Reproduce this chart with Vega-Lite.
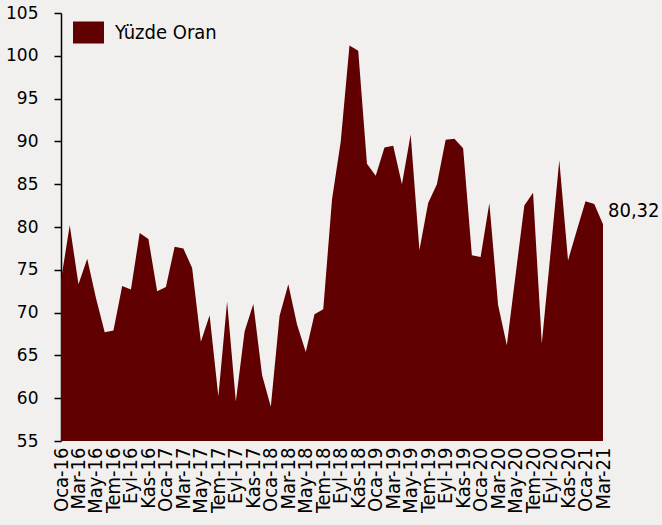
{
  "$schema": "https://vega.github.io/schema/vega-lite/v6.json",
  "autosize": {"type": "none"},
  "padding": {"left": 61, "top": 13, "right": 59, "bottom": 84},
  "width": 542,
  "height": 428,
  "background": "#f2f0ef",
  "config": {
    "view": {"stroke": null},
    "font": "DejaVu Sans",
    "locale": {"number": {"decimal": ",", "thousands": ".", "grouping": [3], "currency": ["", " TL"]}}
  },
  "data": {
    "values": [
      {"ay": "Oca-16", "oran": 73.8},
      {"ay": "Şub-16", "oran": 80.2},
      {"ay": "Mar-16", "oran": 73.3},
      {"ay": "Nis-16", "oran": 76.3},
      {"ay": "May-16", "oran": 71.7},
      {"ay": "Haz-16", "oran": 67.7},
      {"ay": "Tem-16", "oran": 67.9},
      {"ay": "Ağu-16", "oran": 73.1},
      {"ay": "Eyl-16", "oran": 72.7},
      {"ay": "Eki-16", "oran": 79.3},
      {"ay": "Kas-16", "oran": 78.6},
      {"ay": "Ara-16", "oran": 72.5},
      {"ay": "Oca-17", "oran": 73.0},
      {"ay": "Şub-17", "oran": 77.7},
      {"ay": "Mar-17", "oran": 77.5},
      {"ay": "Nis-17", "oran": 75.2},
      {"ay": "May-17", "oran": 66.6},
      {"ay": "Haz-17", "oran": 69.7},
      {"ay": "Tem-17", "oran": 60.2},
      {"ay": "Ağu-17", "oran": 71.3},
      {"ay": "Eyl-17", "oran": 59.6},
      {"ay": "Eki-17", "oran": 67.8},
      {"ay": "Kas-17", "oran": 71.0},
      {"ay": "Ara-17", "oran": 62.7},
      {"ay": "Oca-18", "oran": 59.0},
      {"ay": "Şub-18", "oran": 69.6},
      {"ay": "Mar-18", "oran": 73.3},
      {"ay": "Nis-18", "oran": 68.6},
      {"ay": "May-18", "oran": 65.4},
      {"ay": "Haz-18", "oran": 69.8},
      {"ay": "Tem-18", "oran": 70.4},
      {"ay": "Ağu-18", "oran": 83.2},
      {"ay": "Eyl-18", "oran": 90.0},
      {"ay": "Eki-18", "oran": 101.2},
      {"ay": "Kas-18", "oran": 100.6},
      {"ay": "Ara-18", "oran": 87.4},
      {"ay": "Oca-19", "oran": 86.0},
      {"ay": "Şub-19", "oran": 89.3},
      {"ay": "Mar-19", "oran": 89.5},
      {"ay": "Nis-19", "oran": 85.0},
      {"ay": "May-19", "oran": 90.8},
      {"ay": "Haz-19", "oran": 77.3},
      {"ay": "Tem-19", "oran": 82.8},
      {"ay": "Ağu-19", "oran": 85.0},
      {"ay": "Eyl-19", "oran": 90.2},
      {"ay": "Eki-19", "oran": 90.3},
      {"ay": "Kas-19", "oran": 89.2},
      {"ay": "Ara-19", "oran": 76.7},
      {"ay": "Oca-20", "oran": 76.5},
      {"ay": "Şub-20", "oran": 82.8},
      {"ay": "Mar-20", "oran": 70.9},
      {"ay": "Nis-20", "oran": 66.2},
      {"ay": "May-20", "oran": 74.4},
      {"ay": "Haz-20", "oran": 82.5},
      {"ay": "Tem-20", "oran": 84.0},
      {"ay": "Ağu-20", "oran": 66.4},
      {"ay": "Eyl-20", "oran": 77.0},
      {"ay": "Eki-20", "oran": 87.8},
      {"ay": "Kas-20", "oran": 76.1},
      {"ay": "Ara-20", "oran": 79.6},
      {"ay": "Oca-21", "oran": 83.0},
      {"ay": "Şub-21", "oran": 82.7},
      {"ay": "Mar-21", "oran": 80.32}
    ]
  },
  "encoding": {
    "x": {
      "field": "ay",
      "type": "ordinal",
      "sort": null,
      "scale": {"type": "point", "padding": 0},
      "axis": {
        "title": null,
        "domain": false,
        "ticks": false,
        "labelAngle": -90,
        "labelPadding": 6,
        "labelFont": "DejaVu Sans Condensed",
        "labelFontSize": 20,
        "labelColor": "#000000",
        "labelOverlap": false,
        "values": ["Oca-16","Mar-16","May-16","Tem-16","Eyl-16","Kas-16","Oca-17","Mar-17","May-17","Tem-17","Eyl-17","Kas-17","Oca-18","Mar-18","May-18","Tem-18","Eyl-18","Kas-18","Oca-19","Mar-19","May-19","Tem-19","Eyl-19","Kas-19","Oca-20","Mar-20","May-20","Tem-20","Eyl-20","Kas-20","Oca-21","Mar-21"]
      }
    },
    "y": {
      "field": "oran",
      "type": "quantitative",
      "scale": {"domain": [55, 105], "zero": false, "nice": false},
      "axis": {
        "title": null,
        "grid": false,
        "values": [55, 60, 65, 70, 75, 80, 85, 90, 95, 100, 105],
        "domainColor": "#000000",
        "domainWidth": 1.5,
        "tickColor": "#000000",
        "tickWidth": 1.5,
        "tickSize": 7,
        "labelPadding": 16,
        "labelFontSize": 17,
        "labelColor": "#000000"
      }
    }
  },
  "layer": [
    {
      "mark": {"type": "area", "interpolate": "linear"},
      "encoding": {
        "y2": {"datum": 55},
        "color": {
          "datum": "Yüzde Oran",
          "type": "nominal",
          "scale": {"range": ["#600000"]},
          "legend": {
            "title": null,
            "orient": "none",
            "legendX": 12,
            "legendY": 4,
            "padding": 0,
            "symbolType": "M-1,-0.71H1V0.71H-1Z",
            "symbolSize": 961,
            "symbolStrokeWidth": 0,
            "labelFont": "DejaVu Sans Condensed",
            "labelFontSize": 20,
            "labelColor": "#000000",
            "labelOffset": 11
          }
        }
      }
    },
    {
      "transform": [{"filter": "datum.ay == 'Mar-21'"}],
      "mark": {"type": "text", "align": "left", "baseline": "middle", "dx": 5, "dy": -13, "font": "DejaVu Sans Condensed", "fontSize": 20, "color": "#000000"},
      "encoding": {
        "text": {"field": "oran", "type": "quantitative", "format": ".2f"}
      }
    }
  ]
}
